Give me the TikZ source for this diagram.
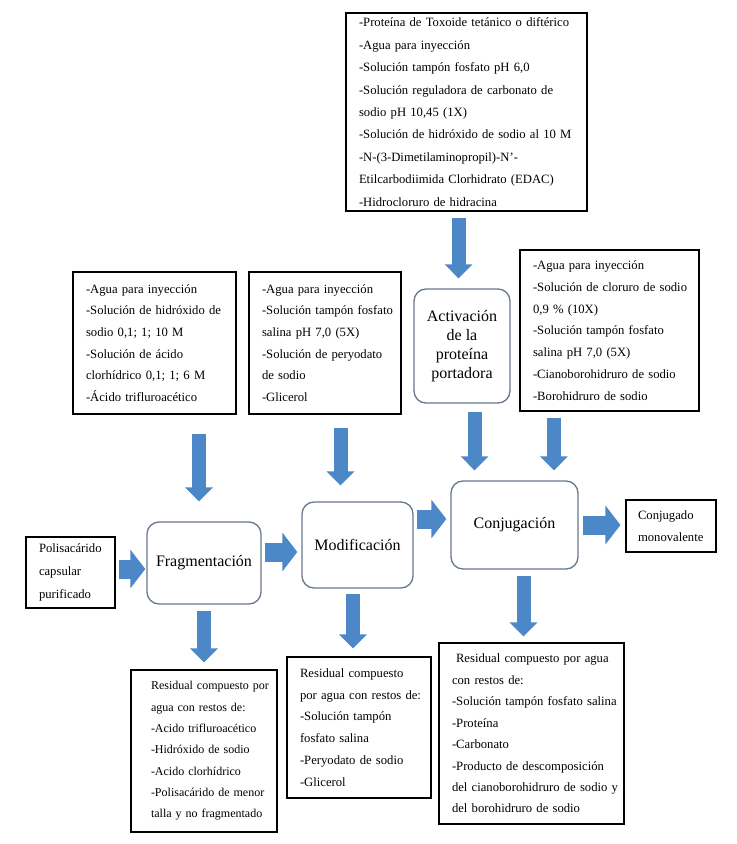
\documentclass[tikz,border=0pt]{standalone}
\usepackage{fontspec}
\setmainfont{Liberation Serif}
\usetikzlibrary{arrows.meta,calc}
\definecolor{arrowblue}{RGB}{76,135,200}
\definecolor{rbcol}{RGB}{105,120,140}
\newcommand{\Ln}[1]{\mbox{#1}}
\begin{document}
\begin{tikzpicture}[x=0.75pt,y=-0.75pt]
\tikzset{
  box/.style={draw=black, line width=0.8pt, inner ysep=0pt, inner xsep=9.75pt, align=left,
    font=\fontsize{9.5}{16.3}\selectfont},
  rbox/.style={draw=rbcol, line width=1pt, rounded corners=9pt, align=center,
    font=\fontsize{12}{14.25}\selectfont, inner sep=0pt},
  varrow/.style={draw=arrowblue, line width=10.5pt, -{Triangle[length=10.5pt,width=20.25pt]}},
  harrow/.style={draw=arrowblue, line width=14.25pt, -{Triangle[length=11.25pt,width=28.5pt]}}
}
\fill[white] (0,0) rectangle (737,844);
\useasboundingbox (0,0) rectangle (737,844);

% input boxes
\node[box, text width=161.25pt, minimum height=148.5pt, font=\fontsize{9.5}{16.8}\selectfont] (T) at (466.5,112) {%
\Ln{-Proteína de Toxoide tetánico o diftérico}\\
\Ln{-Agua para inyección}\\
\Ln{-Solución tampón fosfato pH 6,0}\\
\Ln{-Solución reguladora de carbonato de}\\
\Ln{sodio pH 10,45 (1X)}\\
\Ln{-Solución de hidróxido de sodio al 10 M}\\
\Ln{-N-(3-Dimetilaminopropil)-N'-}\\
\Ln{Etilcarbodiimida Clorhidrato (EDAC)}\\
\Ln{-Hidrocloruro de hidracina}};

\node[box, text width=102.75pt, minimum height=106.5pt] (A) at (154.5,343) {%
\Ln{-Agua para inyección}\\
\Ln{-Solución de hidróxido de}\\
\Ln{sodio 0,1; 1; 10 M}\\
\Ln{-Solución de ácido}\\
\Ln{clorhídrico 0,1; 1; 6 M}\\
\Ln{-Ácido trifluroacético}};

\node[box, text width=94.5pt, minimum height=106.5pt] (B) at (325,343) {%
\Ln{-Agua para inyección}\\
\Ln{-Solución tampón fosfato}\\
\Ln{salina pH 7,0 (5X)}\\
\Ln{-Solución de peryodato}\\
\Ln{de sodio}\\
\Ln{-Glicerol}};

\node[box, text width=114.75pt, minimum height=120.75pt] (C) at (609.5,330.5) {%
\Ln{-Agua para inyección}\\
\Ln{-Solución de cloruro de sodio}\\
\Ln{0,9 \% (10X)}\\
\Ln{-Solución tampón fosfato}\\
\Ln{salina pH 7,0 (5X)}\\
\Ln{-Cianoborohidruro de sodio}\\
\Ln{-Borohidruro de sodio}};

\node[box, text width=47.25pt, minimum height=53.25pt, font=\fontsize{9.5}{17.25}\selectfont] (P) at (70.5,572.5) {%
\Ln{Polisacárido}\\
\Ln{capsular}\\
\Ln{purificado}};

\node[box, inner xsep=9pt, text width=49.5pt, minimum height=39pt, font=\fontsize{9.5}{16.5}\selectfont] (Out) at (671,526) {%
\Ln{Conjugado}\\
\Ln{monovalente}};

% process boxes
\node[rbox, minimum width=72pt, minimum height=85.5pt] (Act) at (462,346) {Activación\\de la\\proteína\\portadora};
\node[rbox, minimum width=85.5pt, minimum height=61.5pt] (Frag) at (204,563) {Fragmentación};
\node[rbox, minimum width=83.25pt, minimum height=64.5pt] (Mod) at (357.5,545) {Modificación};
\node[rbox, minimum width=95.25pt, minimum height=66pt] (Conj) at (514.5,525) {Conjugación};

% residual boxes
\node[box, inner xsep=15pt, text width=79.5pt, minimum height=121.5pt, font=\fontsize{9}{16}\selectfont] (R1) at (204,751) {%
\Ln{Residual compuesto por}\\
\Ln{agua con restos de:}\\
\Ln{-Acido trifluroacético}\\
\Ln{-Hidróxido de sodio}\\
\Ln{-Acido clorhídrico}\\
\Ln{-Polisacárido de menor}\\
\Ln{talla y no fragmentado}};

\node[box, text width=88.5pt, minimum height=105.75pt] (R2) at (359,727.5) {%
\Ln{Residual compuesto}\\
\Ln{por agua con restos de:}\\
\Ln{-Solución tampón}\\
\Ln{fosfato salina}\\
\Ln{-Peryodato de sodio}\\
\Ln{-Glicerol}};

\node[box, text width=119.25pt, minimum height=135.75pt, font=\fontsize{9.5}{16.1}\selectfont] (R3) at (531.5,733.5) {%
\Ln{\hspace{3pt}Residual compuesto por agua}\\
\Ln{con restos de:}\\
\Ln{-Solución tampón fosfato salina}\\
\Ln{-Proteína}\\
\Ln{-Carbonato}\\
\Ln{-Producto de descomposición}\\
\Ln{del cianoborohidruro de sodio y}\\
\Ln{del borohidruro de sodio}};

% arrows
\draw[varrow, shorten <=4.5pt, shorten >=7.5pt] ($(T.south -| Act.north)+(-2.6pt,0)$) -- ($(Act.north)+(-2.6pt,0)$);
\draw[varrow, shorten <=14.25pt, shorten >=15pt] ($(A.south -| Frag.north)+(-3.75pt,0)$) -- ($(Frag.north)+(-3.75pt,0)$);
\draw[varrow, shorten <=9.75pt, shorten >=12pt] ($(B.south -| Mod.north)+(-12.75pt,0)$) -- ($(Mod.north)+(-12.75pt,0)$);
\draw[varrow, shorten <=6pt, shorten >=7.5pt] ($(Act.south)+(9.4pt,0)$) -- ($(Act.south |- Conj.north)+(9.4pt,0)$);
\draw[varrow, shorten <=4.5pt, shorten >=7.5pt] ($(C.south -| Conj.north)+(29.6pt,0)$) -- ($(Conj.north)+(29.6pt,0)$);
\draw[harrow, shorten <=2.25pt, shorten >=0.75pt] ($(P.east)+(0,2.6pt)$) -- ($(P.east -| Frag.west)+(0,2.6pt)$);
\draw[harrow, shorten <=2.25pt, shorten >=3pt] ($(Frag.east)+(0,8.25pt)$) -- ($(Frag.east -| Mod.west)+(0,8.25pt)$);
\draw[harrow, shorten <=2.25pt, shorten >=3pt] ($(Conj.west -| Mod.east)+(0,4.5pt)$) -- ($(Conj.west)+(0,4.5pt)$);
\draw[harrow, shorten <=3pt, shorten >=3.75pt] (Conj.east) -- (Conj.east -| Out.west);
\draw[varrow, shorten <=4.5pt, shorten >=5.25pt] (Frag.south) -- (Frag.south |- R1.north);
\draw[varrow, shorten <=3.75pt, shorten >=6pt] ($(Mod.south)+(-3.4pt,0)$) -- ($(Mod.south |- R2.north)+(-3.4pt,0)$);
\draw[varrow, shorten <=4.5pt, shorten >=4.5pt] ($(Conj.south)+(6.75pt,0)$) -- ($(Conj.south |- R3.north)+(6.75pt,0)$);
\end{tikzpicture}
\end{document}
